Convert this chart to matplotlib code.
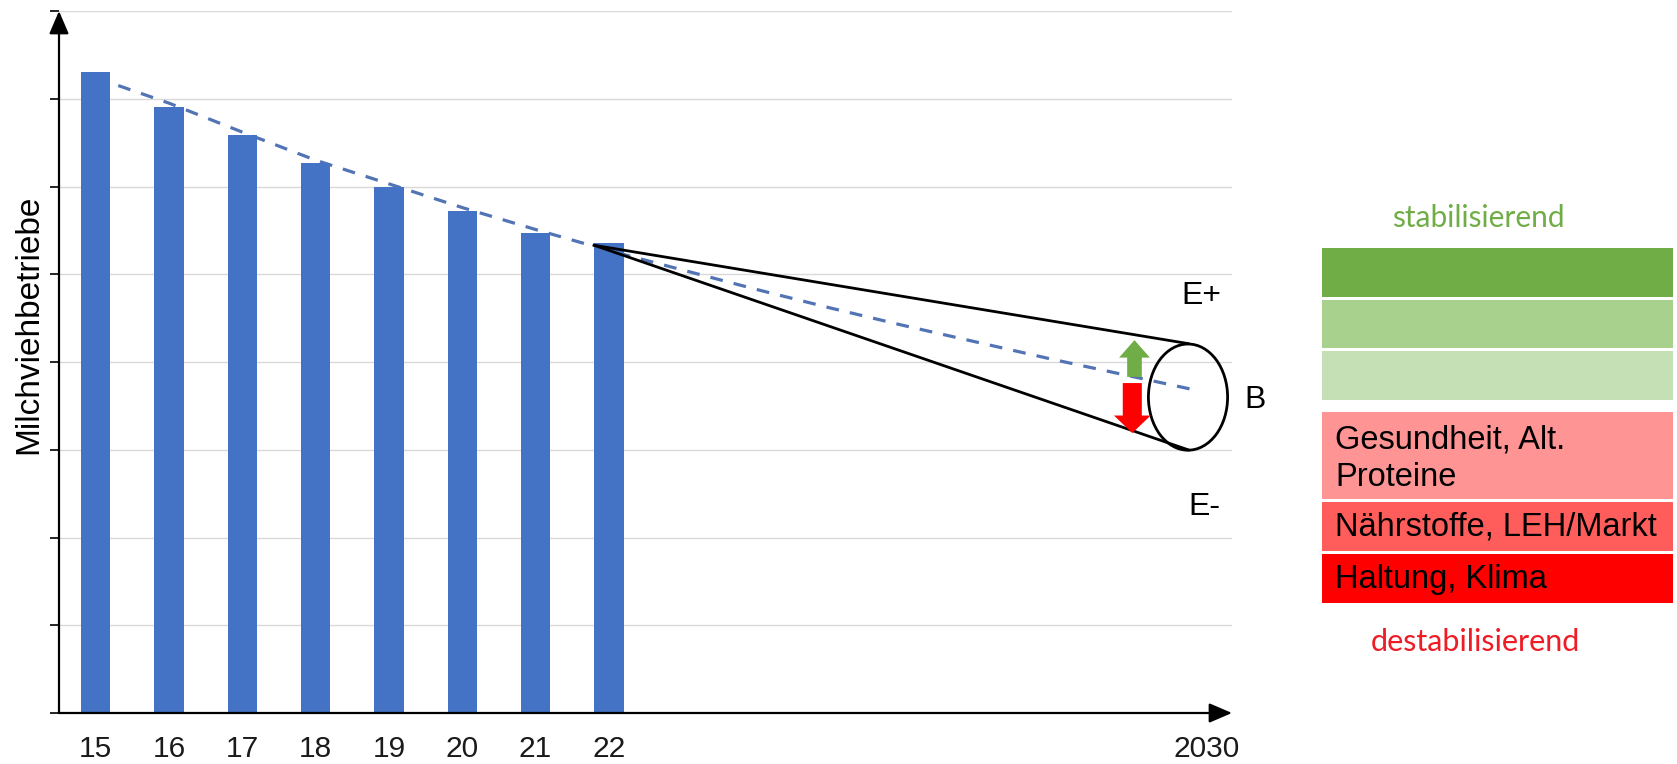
import matplotlib.pyplot as plt
from matplotlib.patches import Ellipse, FancyArrow, Rectangle

# Milchviehbetriebe je Jahr (relative Einheiten, Gitterabstand = 1)
years = [15, 16, 17, 18, 19, 20, 21, 22]
farms = [7.31, 6.91, 6.59, 6.27, 5.99, 5.72, 5.47, 5.36]

# Trendlinie bis 2030
trend_years = [15, 16, 17, 18, 19, 20, 21, 22, 23, 24, 25, 26, 27, 28, 29, 30]
trend_vals = [7.24, 6.95, 6.62, 6.30, 6.03, 5.76, 5.51, 5.27,
              5.05, 4.83, 4.62, 4.42, 4.23, 4.04, 3.86, 3.68]

# Szenarien 2030: Basis (B), Extremwerte E+ / E-
forecast_x = 29.9
base_2030 = 3.60
e_plus = 4.21
e_minus = 3.0

tick_pos = [15, 16, 17, 18, 19, 20, 21, 22, 30.15]
tick_labels = ["15", "16", "17", "18", "19", "20", "21", "22", "2030"]

stab_colors = ["#70AD47", "#A9D18E", "#C5E0B4"]
destab_labels = ["Gesundheit, Alt.\nProteine", "Nährstoffe, LEH/Markt", "Haltung, Klima"]
destab_colors = ["#FF9494", "#FF5C5C", "#FF0000"]

W, H = 1677, 764
fig = plt.figure(figsize=(W / 100, H / 100), dpi=100)
ax = fig.add_axes([59 / W, 1 - 713 / H, (1232 - 59) / W, (713 - 11) / H])

ax.set_xlim(14.5, 30.5)
ax.set_ylim(0, 8)

ax.plot(trend_years, trend_vals, color="#5274B4", lw=2.3, ls=(0, (4, 3.5)), zorder=1.5)
ax.bar(years, farms, width=0.4, color="#4472C4", zorder=2)

# Trichter vom letzten Balken zum Ellipsenrand
apex_x = years[-1] - 0.2
apex_y = farms[-1] - 0.03
ax.plot([apex_x, forecast_x], [apex_y, e_plus], color="black", lw=2, zorder=4)
ax.plot([apex_x, forecast_x], [apex_y, e_minus], color="black", lw=2, zorder=4)
ax.add_patch(Ellipse((forecast_x, base_2030), 1.08, e_plus - e_minus,
                     fill=False, ec="black", lw=2, zorder=4))

# Pfeile stabilisierend / destabilisierend
ax.add_patch(FancyArrow(29.17, 3.83, 0, 0.42, width=0.2, head_width=0.42,
                        head_length=0.2, length_includes_head=True,
                        color="#70AD47", lw=0, zorder=5))
ax.add_patch(FancyArrow(29.14, 3.76, 0, -0.57, width=0.26, head_width=0.5,
                        head_length=0.2, length_includes_head=True,
                        color="#FF0000", lw=0, zorder=5))

lab_kw = dict(fontsize=23, family="Liberation Sans", ha="center", va="center", clip_on=False)
ax.text(30.08, 4.75, "E+", **lab_kw)
ax.text(30.82, 3.57, "B", **lab_kw)
ax.text(30.12, 2.35, "E-", **lab_kw)

# Achsen als Pfeile
for s in ax.spines.values():
    s.set_visible(False)
arrow = dict(arrowstyle="-|>,head_length=0.7,head_width=0.3", color="black",
             lw=1.6, mutation_scale=20, shrinkA=0, shrinkB=0)
ax.annotate("", xy=(0, 1), xytext=(0, 0), xycoords="axes fraction", arrowprops=arrow, zorder=6)
ax.annotate("", xy=(1, 0), xytext=(0, 0), xycoords="axes fraction", arrowprops=arrow, zorder=6)

ax.set_yticks(range(0, 9))
ax.set_yticklabels([])
ax.tick_params(axis="y", direction="out", length=6.5, width=1.2, color="black")
ax.yaxis.grid(True, color="#D9D9D9", lw=1)
ax.set_axisbelow(True)

ax.set_xticks(tick_pos)
ax.set_xticklabels(tick_labels, fontsize=21.5, family="Liberation Sans", color="#1a1a1a")
ax.tick_params(axis="x", length=0, pad=16)

fig.text(29 / W, 1 - 324 / H, "Milchviehbetriebe", rotation=90, fontsize=24,
         family="Liberation Sans", ha="center", va="center")

# Einflussfaktoren rechts
panel = fig.add_axes([0, 0, 1, 1], zorder=-1)
panel.set_xlim(0, W)
panel.set_ylim(H, 0)
panel.set_axis_off()

box_x, box_w = 1322, 351
y = 248
for c in stab_colors:
    panel.add_patch(Rectangle((box_x, y), box_w, 48.5, color=c, lw=0))
    y += 51.5
y = 412
for lab, c, h in zip(destab_labels, destab_colors, [87, 49, 49]):
    panel.add_patch(Rectangle((box_x, y), box_w, h, color=c, lw=0))
    panel.text(box_x + 13, y + h / 2 + (3 if "\n" in lab else 1), lab, fontsize=23.5,
               family="Liberation Sans", va="center", ha="left", linespacing=1.25)
    y += h + 3

panel.text(1478, 218, "stabilisierend", color="#70AD47", fontsize=21.5, family="Lato",
           ha="center", va="center")
panel.text(1475, 642, "destabilisierend", color="#EE1C25", fontsize=22, family="Lato",
           ha="center", va="center")

fig.savefig("out.png", dpi=100)
